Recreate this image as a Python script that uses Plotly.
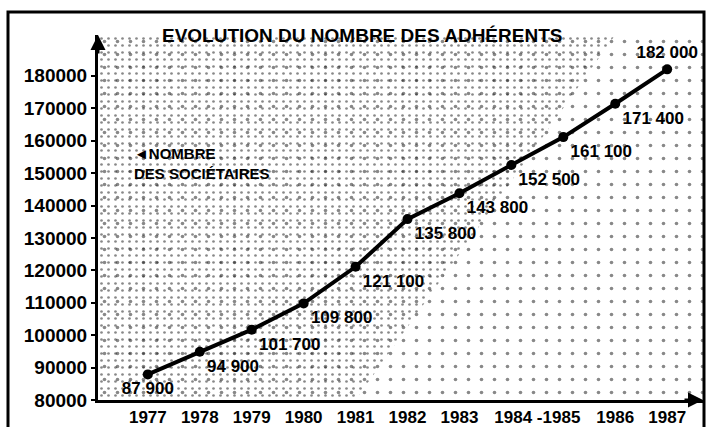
import plotly.graph_objects as go

years = [1977, 1978, 1979, 1980, 1981, 1982, 1983, 1984, 1985, 1986, 1987]
members = [87900, 94900, 101700, 109800, 121100, 135800, 143800, 152500, 161100, 171400, 182000]
value_labels = ["87 900", "94 900", "101 700", "109 800", "121 100", "135 800",
                "143 800", "152 500", "161 100", "171 400", "182 000"]
tick_vals_x = [1977, 1978, 1979, 1980, 1981, 1982, 1983, 1984.5, 1986, 1987]
tick_text_x = ["1977", "1978", "1979", "1980", "1981", "1982", "1983", "1984 -1985", "1986", "1987"]
tick_vals_y = [80000, 90000, 100000, 110000, 120000, 130000, 140000, 150000, 160000, 170000, 180000]
tick_text_y = ["80000", "90000", "100000", "110000", "120000", "130000", "140000",
               "150000", "160000", "170000", "180000"]
title_text = "EVOLUTION DU NOMBRE DES ADHÉRENTS"
legend_text = "◄NOMBRE<br>DES SOCIÉTAIRES"

label_pos = ["bottom center"] + ["bottom right"] * 9 + ["top center"]

xr = [1976.04, 1987.69]
yr = [80000, 192600]

W, H = 707, 427
ml, mr, mt, mb = 98, 4, 35, 27
pw = W - ml - mr
ph = H - mt - mb

FONT = "Liberation Sans, Arial, sans-serif"

fig = go.Figure()

# stipple texture: sparse everywhere
fig.add_trace(go.Scatter(
    x=[xr[0], xr[1], xr[1], xr[0], xr[0]],
    y=[yr[0], yr[0], yr[1], yr[1], yr[0]],
    fill="toself", mode="none", hoverinfo="skip", showlegend=False,
    fillcolor="rgba(0,0,0,0)",
    fillpattern=dict(shape=".", size=13, solidity=0.06, fgcolor="#111", bgcolor="white"),
))
# denser stipple toward upper-left
fig.add_trace(go.Scatter(
    x=[xr[0], years[9], years[4], xr[0], xr[0]],
    y=[yr[1], yr[1], yr[0], yr[0], yr[1]],
    fill="toself", mode="none", hoverinfo="skip", showlegend=False,
    fillcolor="rgba(0,0,0,0)",
    fillpattern=dict(shape=".", size=7, solidity=0.12, fgcolor="#111", bgcolor="rgba(0,0,0,0)"),
))

fig.add_trace(go.Scatter(
    x=years, y=members, mode="lines+markers+text",
    line=dict(color="black", width=4),
    marker=dict(color="black", size=10),
    text=value_labels, textposition=label_pos,
    textfont=dict(family=FONT, size=17, color="black", weight="bold"),
    showlegend=False, cliponaxis=False, hoverinfo="skip",
))

fig.update_layout(
    width=W, height=H,
    margin=dict(l=ml, r=mr, t=mt, b=mb, autoexpand=False),
    paper_bgcolor="white", plot_bgcolor="white",
    xaxis=dict(range=xr, tickvals=tick_vals_x, ticktext=tick_text_x, automargin=False,
               showgrid=False, zeroline=False, showline=True, linecolor="black", linewidth=3,
               ticks="", tickfont=dict(family=FONT, size=17, color="black", weight="bold")),
    yaxis=dict(range=yr, tickvals=tick_vals_y, ticktext=tick_text_y, automargin=False,
               showgrid=False, zeroline=False, showline=True, linecolor="black", linewidth=3,
               ticks="outside", ticklen=4, tickwidth=2, tickcolor="black",
               tickfont=dict(family=FONT, size=19, color="black", weight="bold")),
    font=dict(family=FONT, color="black"),
)

# frame
fig.add_shape(type="rect", xref="paper", yref="paper",
              x0=(8 - ml) / pw, x1=(704 - ml) / pw,
              y0=-0.2, y1=1 + (mt - 12) / ph,
              line=dict(color="black", width=3), fillcolor="rgba(0,0,0,0)", layer="above")

# axis arrows
fig.add_annotation(xref="paper", yref="paper", x=0, y=1, ax=0, ay=20,
                   showarrow=True, arrowhead=2, arrowsize=1, arrowwidth=3, arrowcolor="black", text="")
fig.add_annotation(xref="paper", yref="paper", x=1, y=0, ax=-20, ay=0,
                   showarrow=True, arrowhead=2, arrowsize=1, arrowwidth=3, arrowcolor="black", text="")

fig.add_annotation(xref="paper", yref="paper", x=(362 - ml) / pw, y=1.0,
                   text=title_text, showarrow=False,
                   font=dict(family=FONT, size=19, color="black", weight="bold"), yanchor="middle")
fig.add_annotation(xref="paper", yref="paper", x=(132 - ml) / pw, y=(400 - 163) / ph,
                   text=legend_text, showarrow=False, align="left",
                   xanchor="left", yanchor="middle",
                   font=dict(family=FONT, size=15, color="black", weight="bold"))

fig.write_html("out.html", config={"displayModeBar": False},
               post_script="document.body.style.margin='0';document.body.style.overflow='hidden';")
